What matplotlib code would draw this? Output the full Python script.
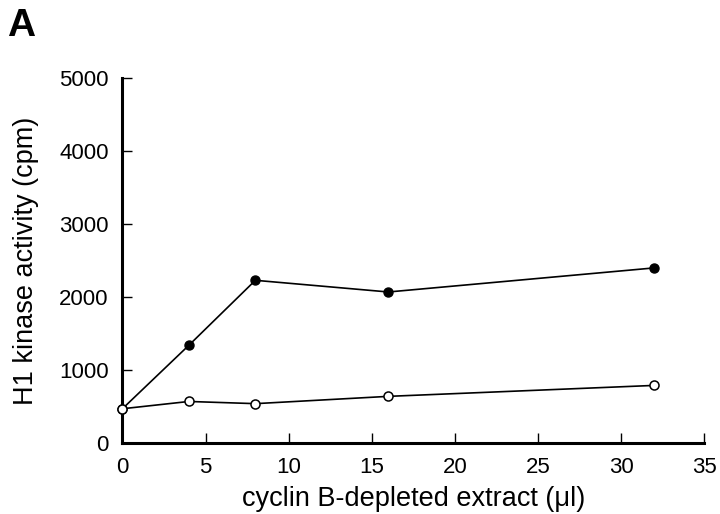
import matplotlib
matplotlib.use("Agg")
import matplotlib.pyplot as plt

plt.rcParams['font.family'] = ['Liberation Sans', 'DejaVu Sans']

# 数据
extract_ul = [0, 4, 8, 16, 32]
filled_cpm = [470, 1340, 2230, 2070, 2400]
open_cpm = [470, 570, 540, 640, 790]
x_ticks = [0, 5, 10, 15, 20, 25, 30, 35]
y_ticks = [0, 1000, 2000, 3000, 4000, 5000]

fig = plt.figure(figsize=(7.2, 5.14), dpi=100)
ax = fig.add_axes([0.170, 0.138, 0.808, 0.71])

ax.plot(extract_ul, filled_cpm, color='black', lw=1.2, marker='o',
        ms=6.5, mfc='black', mec='black', clip_on=False, zorder=3)
ax.plot(extract_ul, open_cpm, color='black', lw=1.2, marker='o',
        ms=6.5, mfc='white', mec='black', mew=1.1, clip_on=False, zorder=4)

ax.set_xlim(0, 35)
ax.set_ylim(0, 5000)
ax.set_xticks(x_ticks)
ax.set_yticks(y_ticks)
for s in ['top', 'right']:
    ax.spines[s].set_visible(False)
for s in ['left', 'bottom']:
    ax.spines[s].set_linewidth(2.2)
ax.tick_params(direction='in', length=7, width=1, labelsize=16)
ax.tick_params(axis='y', pad=10)
ax.tick_params(axis='x', pad=10)

ax.set_xlabel('cyclin B-depleted extract (\u03bcl)', fontsize=19.5, labelpad=6)
ax.set_ylabel('H1 kinase activity (cpm)', fontsize=19.5, labelpad=14)

fig.text(0.01, 0.93, 'A', fontsize=28, fontweight='bold')

fig.savefig('out.png', dpi=100)
